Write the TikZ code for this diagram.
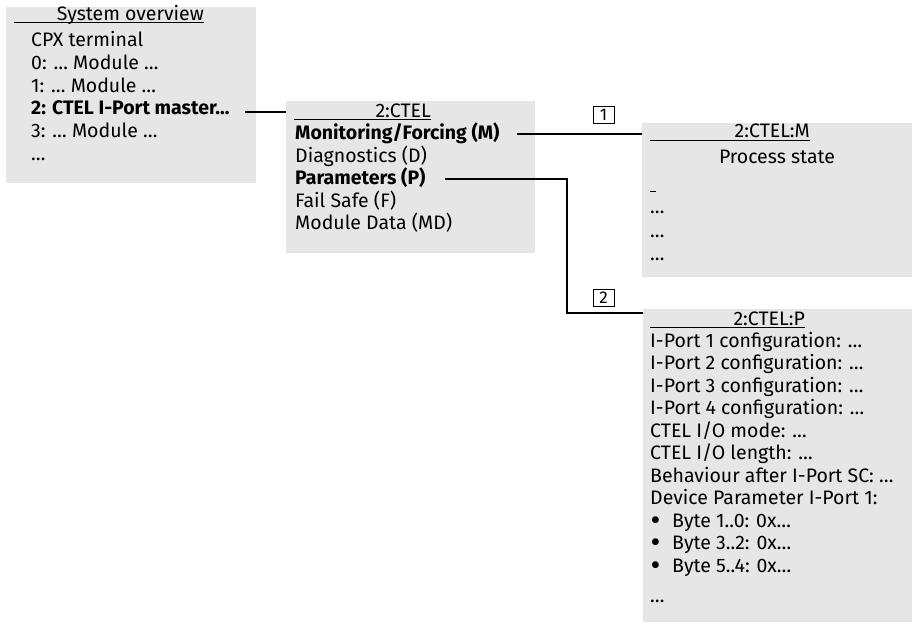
\documentclass[tikz,border=0pt]{standalone}
\usepackage{fontspec}
\setmainfont{Fira Sans}
\usetikzlibrary{calc}
\definecolor{boxgray}{RGB}{230,230,230}
\newcommand{\fs}{\fontsize{19.5}{22}\selectfont}
\tikzset{
  panel/.style={fill=boxgray, draw=none, inner sep=0pt, anchor=north west},
  txt/.style={anchor=base west, inner sep=0pt, font=\fs},
  btxt/.style={txt, font=\fs\bfseries},
  head/.style={anchor=base east, inner sep=0pt, font=\fs},
  uline/.style={line width=1pt},
  conn/.style={line width=1.1pt},
  tag/.style={draw, line width=0.7pt, inner sep=0pt, minimum width=21pt, minimum height=17pt, font=\fontsize{17}{18}\selectfont}
}
\newcommand{\bul}{\makebox[22pt][l]{\kern0.5pt\raisebox{-3.2pt}[0pt][0pt]{\scalebox{1.55}{•}}}}
\begin{document}
\begin{tikzpicture}[x=1pt,y=-1pt]
\useasboundingbox (0,0) rectangle (917,626);
% panels
\node[panel, minimum width=250pt, minimum height=176pt] (b1) at (6,7) {};
\node[panel, minimum width=249pt, minimum height=152pt] (b2) at (286,101) {};
\node[panel, minimum width=270pt, minimum height=154pt] (b3) at (642,123) {};
\node[panel, minimum width=269pt, minimum height=313pt] (b4) at (643,309) {};
% box 1
\node[head] (h1) at (204,21) {System overview};
\draw[uline] (14,23) -- (h1.base east |- 0,23);
\node[txt] (a0) at (31,47) {CPX terminal};
\node[txt] (a1) at (31,69.5) {0: … Module …};
\node[txt] (a2) at (31,92) {1: … Module …};
\node[btxt] (a3) at (31,114.5) {2: CTEL I-Port master…};
\node[txt] (a4) at (31,137) {3: … Module …};
\node[txt] (a5) at (31,160) {…};
% box 2
\node[head] (h2) at (431,117) {2:CTEL};
\draw[uline] (294,119) -- (h2.base east |- 0,119);
\node[btxt] (m0) at (295,139.5) {Monitoring/Forcing (M)};
\node[txt] (m1) at (295,162) {Diagnostics (D)};
\node[btxt] (m2) at (295,184.5) {Parameters (P)};
\node[txt] (m3) at (295,207) {Fail Safe (F)};
\node[txt] (m4) at (295,229.5) {Module Data (MD)};
% box 3
\node[head] (h3) at (810,137) {2:CTEL:M};
\draw[uline] (650,140) -- (h3.base east |- 0,140);
\node[txt, anchor=base] (ps) at (777,163) {Process state};
\coordinate (us) at (650,191);
\draw[line width=0.8pt] (us) -- ++(6,0);
\node[txt] (p1) at (650,213) {…};
\node[txt] (p2) at (650,237) {…};
\node[txt] (p3) at (650,260) {…};
% box 4
\node[head] (h4) at (805,325) {2:CTEL:P};
\draw[uline] (650,327) -- (h4.base east |- 0,327);
\node[txt] (q1) at (650,347) {I-Port 1 configuration: …};
\node[txt] (q2) at (650,369.5) {I-Port 2 configuration: …};
\node[txt] (q3) at (650,392) {I-Port 3 configuration: …};
\node[txt] (q4) at (650,414.5) {I-Port 4 configuration: …};
\node[txt] (q5) at (650,437) {CTEL I/O mode: …};
\node[txt] (q6) at (650,459.5) {CTEL I/O length: …};
\node[txt] (q7) at (650,482) {Behaviour after I-Port SC: …};
\node[txt] (q8) at (650,504.5) {Device Parameter I-Port 1:};
\node[txt] (q9) at (650,527) {\bul Byte 1..0: 0x…};
\node[txt] (q10) at (650,549.5) {\bul Byte 3..2: 0x…};
\node[txt] (q11) at (650,572) {\bul Byte 5..4: 0x…};
\node[txt] (q12) at (650,602) {…};
% connectors
\coordinate (c1s) at (245,112);
\draw[conn] (c1s) -- (c1s -| b2.west);
\coordinate (c2s) at (517,134);
\draw[conn] (c2s) -- (c2s -| b3.west);
\coordinate (c3s) at (445,179);
\coordinate (c3k) at (567,313);
\draw[conn] (c3s) -| (c3k) -- (c3k -| b4.west);
% tags
\node[tag] (t1) at (603.5,115) {1};
\node[tag] (t2) at (603.5,297.5) {2};
\end{tikzpicture}
\end{document}
